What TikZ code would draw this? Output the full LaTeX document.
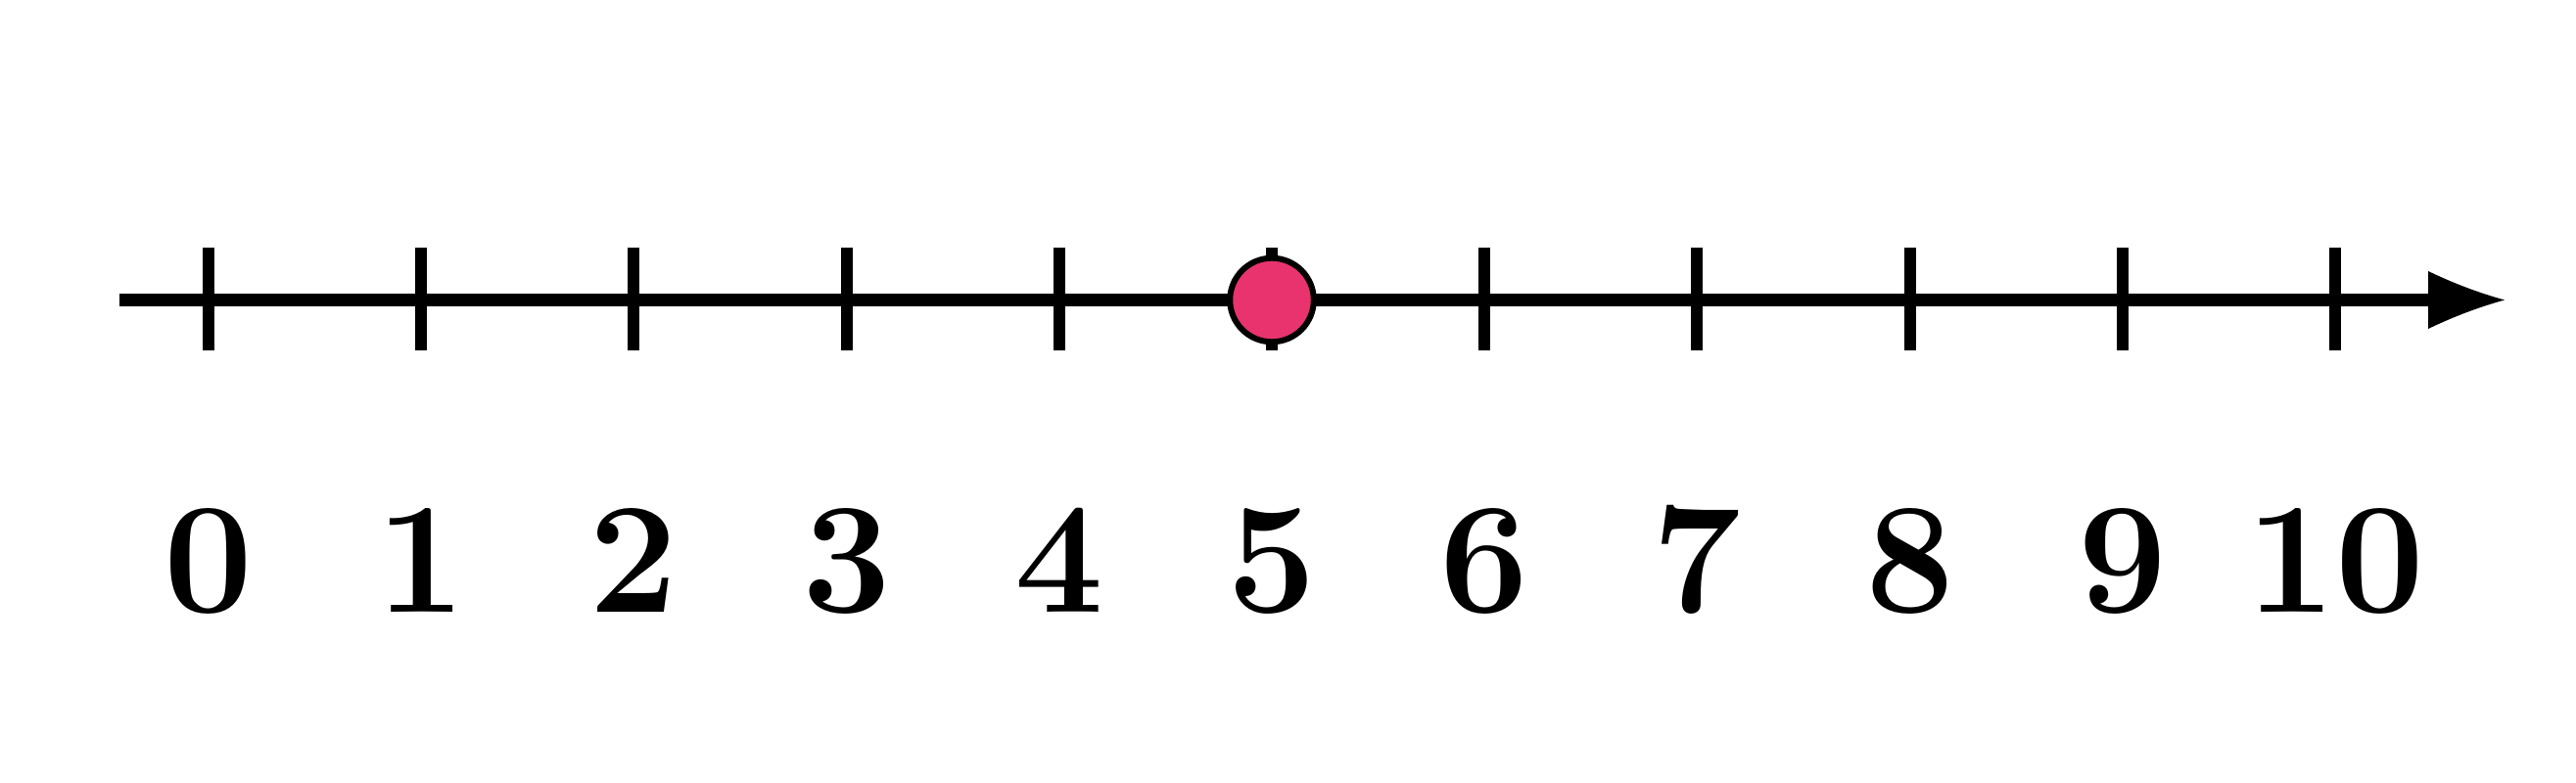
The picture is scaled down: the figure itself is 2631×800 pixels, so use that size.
\documentclass[tikz,border=0pt]{standalone}
\definecolor{dotpink}{RGB}{232,51,110}
\begin{document}
\begin{tikzpicture}[x=0.25pt,y=-0.25pt,
  axisline/.style={line width=3.25pt},
  tickmark/.style={line width=3pt},
  arrowhead/.style={fill=black, draw=none},
  numlabel/.style={anchor=base, inner sep=0pt, font=\fontsize{40.4}{48}\selectfont\bfseries},
  opendot/.style={circle, draw=black, line width=1.5pt, fill=dotpink, minimum size=21.4pt, inner sep=0pt}]
\useasboundingbox (0,0) rectangle (2631,800);
\coordinate (start) at (122,306.5);
\coordinate (headbase) at (2485,306.5);
\coordinate (tip) at (2558,306.5);
\draw[axisline] (start) -- (headbase);
\fill[arrowhead] (2480,277) .. controls (2506,289.5) and (2531,299) .. (tip)
  .. controls (2531,314) and (2506,323.5) .. (2480,336) -- cycle;
\foreach \i in {0,...,10} {
  \coordinate (t\i) at ({213+217.2*\i},306.5);
  \draw[tickmark] ({213+217.2*\i},253) -- ({213+217.2*\i},358);
  \node[numlabel] (l\i) at ({213+217.2*\i},626) {\i};
}
\node[opendot] (dot) at (t5) {};
\end{tikzpicture}
\end{document}
